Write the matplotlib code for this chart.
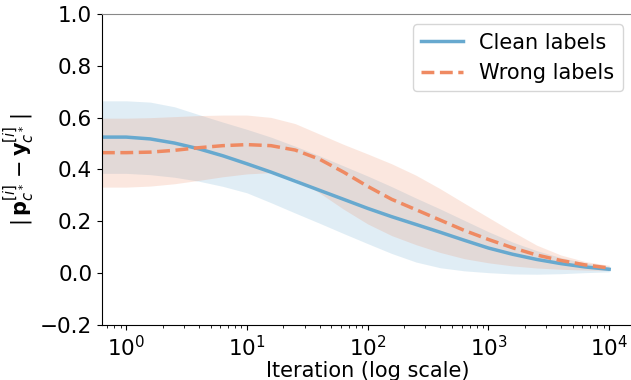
import matplotlib
matplotlib.use('Agg')
import matplotlib.pyplot as plt

# iterations (log axis)
iters = [0.63, 1, 1.58, 2.51, 3.98, 6.31, 10, 15.8, 25.1, 39.8, 63.1,
         100, 158, 251, 398, 631, 1000, 1585, 2512, 3981, 6310, 10000]

clean_mean = [0.525, 0.525, 0.518, 0.502, 0.48, 0.453, 0.422, 0.39, 0.355, 0.32, 0.285,
              0.25, 0.218, 0.188, 0.158, 0.127, 0.097, 0.073, 0.053, 0.037, 0.024, 0.015]
clean_hi = [0.665, 0.665, 0.66, 0.642, 0.612, 0.583, 0.555, 0.525, 0.49, 0.453, 0.414,
            0.375, 0.334, 0.29, 0.248, 0.204, 0.16, 0.12, 0.087, 0.06, 0.04, 0.025]
clean_lo = [0.385, 0.385, 0.38, 0.37, 0.355, 0.335, 0.31, 0.272, 0.232, 0.193, 0.153,
            0.114, 0.076, 0.043, 0.021, 0.009, 0.002, -0.003, -0.004, -0.002, 0.002, 0.005]

wrong_mean = [0.465, 0.465, 0.467, 0.474, 0.484, 0.492, 0.496, 0.492, 0.475, 0.44, 0.39,
              0.335, 0.285, 0.245, 0.205, 0.165, 0.13, 0.098, 0.07, 0.049, 0.032, 0.02]
wrong_hi = [0.598, 0.598, 0.6, 0.604, 0.608, 0.61, 0.61, 0.601, 0.577, 0.537, 0.497,
            0.46, 0.422, 0.378, 0.326, 0.27, 0.215, 0.16, 0.108, 0.07, 0.045, 0.03]
wrong_lo = [0.332, 0.332, 0.336, 0.345, 0.358, 0.372, 0.383, 0.388, 0.365, 0.31, 0.247,
            0.19, 0.145, 0.11, 0.08, 0.056, 0.04, 0.028, 0.02, 0.015, 0.012, 0.01]

c_blue = '#67a9cf'
c_red = '#ef8a62'

plt.rcParams['font.size'] = 15

fig = plt.figure(figsize=(6.31, 3.80), dpi=100)
ax = fig.add_axes([0.1617, 0.1447, 0.842, 0.8185])

ax.plot(iters, clean_mean, color=c_blue, lw=2.5, label='Clean labels')
ax.fill_between(iters, clean_lo, clean_hi, color=c_blue, alpha=0.2, lw=0)
ax.plot(iters, wrong_mean, color=c_red, lw=2.5, ls='--', label='Wrong labels')
ax.fill_between(iters, wrong_lo, wrong_hi, color=c_red, alpha=0.2, lw=0)

ax.set_xscale('log')
ax.set_xlim(10 ** -0.2, 10 ** 4.2)
ax.set_ylim(-0.2, 1.0)
ax.tick_params(labelsize=15.5)
ax.set_xlabel('Iteration (log scale)', labelpad=1)
ax.set_ylabel(r'$|\,\mathbf{p}^{[i]}_{c^*} - \mathbf{y}^{[i]}_{c^*}\,|$', labelpad=2)
ax.spines['top'].set_color('#888888')
ax.spines['right'].set_visible(False)
ax.legend(loc='upper right')

fig.savefig('out.png', dpi=100)
